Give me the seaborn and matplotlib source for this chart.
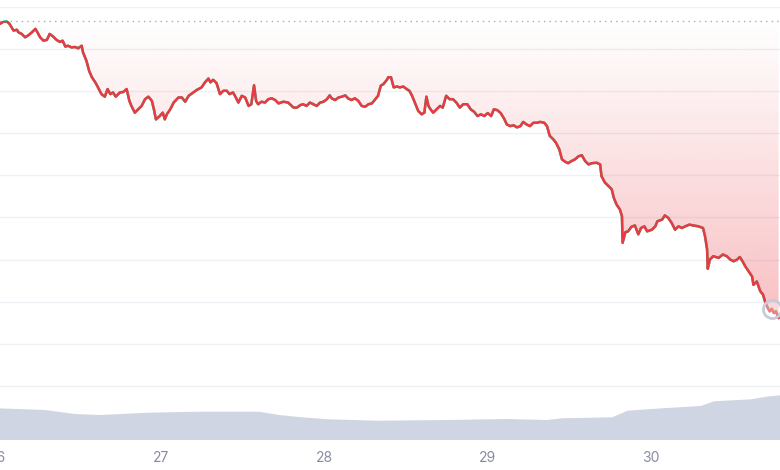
import numpy as np
import matplotlib
matplotlib.use("Agg")
import matplotlib.pyplot as plt
import seaborn as sns
from matplotlib.colors import to_rgb
from matplotlib.patches import Rectangle

# price series (hours since 26th 00:00)
hours = [
    0.4, 0.9, 1.4, 1.8, 2.1, 2.4, 2.9, 3.1, 3.6, 4.1,
    4.6, 5.1, 5.6, 5.9, 6.3, 6.8, 7.3, 7.7, 8.2, 8.7,
    9.2, 9.6, 10.0, 10.4, 10.9, 11.4, 11.9, 12.4, 12.6, 13.1,
    13.5, 13.9, 14.4, 14.8, 15.3, 15.8, 16.2, 16.6, 17.0, 17.4,
    18.0, 18.5, 19.0, 19.4, 19.7, 20.2, 20.7, 21.2, 21.7, 22.2,
    22.7, 23.0, 23.3, 23.8, 24.3, 24.6, 24.9, 25.4, 25.9, 26.6,
    27.1, 27.6, 28.1, 28.8, 29.3, 30.0, 30.5, 31.0, 31.3, 31.7,
    32.2, 32.7, 33.2, 33.7, 34.1, 34.6, 34.9, 35.4, 35.9, 36.4,
    36.9, 37.3, 37.7, 38.0, 38.3, 38.8, 39.3, 39.8, 40.3, 40.8,
    41.3, 42.0, 42.7, 43.5, 44.0, 44.5, 44.9, 45.4, 45.9, 46.4,
    46.9, 47.4, 47.9, 48.4, 48.8, 49.1, 49.6, 50.1, 50.6, 51.1,
    51.5, 52.0, 52.5, 53.0, 53.5, 54.0, 54.5, 55.0, 55.5, 55.9,
    56.3, 56.7, 57.2, 57.4, 57.8, 58.2, 58.7, 59.1, 59.6, 60.1,
    60.5, 60.9, 61.3, 61.8, 62.3, 62.7, 63.0, 63.3, 63.6, 64.0,
    64.5, 65.0, 65.4, 65.9, 66.4, 66.9, 67.4, 67.9, 68.4, 69.0,
    69.5, 70.0, 70.5, 71.0, 71.5, 72.0, 72.5, 72.9, 73.4, 73.9,
    74.4, 74.8, 75.3, 75.8, 76.3, 76.8, 77.2, 77.7, 78.2, 78.7,
    79.2, 79.7, 80.3, 80.7, 81.1, 81.6, 82.0, 82.5, 82.9, 83.4,
    83.8, 84.3, 84.8, 85.3, 85.8, 86.3, 86.8, 87.3, 88.0, 88.5,
    88.7, 89.2, 89.7, 90.2, 90.5, 90.9, 91.4, 91.7, 91.8, 92.2,
    92.6, 93.1, 93.6, 94.1, 94.5, 95.0, 95.4, 96.1, 96.6, 96.9,
    97.6, 98.0, 98.5, 99.0, 99.5, 100.0, 100.5, 101.0, 101.6, 102.2,
    102.9, 103.6, 103.9, 104.2, 104.3, 104.6, 105.1, 105.9, 106.5, 107.1,
    107.6, 108.1, 108.6, 109.0, 109.4, 109.8, 110.3, 110.8, 111.0, 111.5,
    112.0, 112.4, 112.7, 113.1, 113.4, 113.7, 114.0, 114.3, 114.7,
]
prices = [
    196.0, 196.5, 196.6, 196.0, 195.2, 194.4, 194.6, 194.0, 193.6, 192.8,
    193.3, 194.0, 194.8, 194.0, 192.8, 192.0, 192.2, 193.6, 193.0, 192.2,
    191.7, 192.0, 190.6, 190.8, 190.4, 190.5, 190.2, 190.8, 189.2, 187.2,
    184.8, 183.3, 182.1, 180.9, 179.3, 178.7, 180.5, 179.3, 179.7, 178.7,
    179.7, 179.8, 180.5, 177.7, 176.5, 174.9, 175.7, 176.5, 178.1, 178.7,
    177.7, 175.7, 173.3, 174.0, 174.9, 173.3, 174.5, 175.7, 177.3, 178.5,
    178.5, 177.5, 178.9, 179.7, 180.3, 180.9, 182.1, 183.0, 182.1, 182.7,
    181.9, 179.3, 180.1, 180.1, 179.3, 179.7, 178.9, 177.3, 178.9, 178.5,
    176.5, 176.9, 181.4, 177.7, 176.9, 177.5, 177.3, 178.1, 178.3, 177.9,
    177.1, 177.5, 177.3, 176.1, 176.1, 176.7, 176.9, 176.5, 177.3, 176.9,
    176.5, 177.3, 177.5, 178.1, 179.0, 178.3, 177.9, 178.5, 178.7, 179.0,
    178.3, 177.9, 178.3, 177.7, 176.5, 176.3, 176.9, 177.1, 178.1, 178.9,
    181.3, 181.7, 182.7, 183.3, 183.3, 180.9, 181.1, 180.9, 181.1, 180.5,
    180.1, 178.9, 177.3, 175.3, 174.5, 174.9, 178.7, 176.5, 175.7, 174.9,
    175.7, 176.5, 176.1, 178.9, 178.1, 178.1, 177.3, 176.1, 176.9, 176.9,
    175.7, 175.1, 174.1, 174.5, 174.1, 174.8, 174.1, 175.7, 175.5, 174.8,
    173.5, 172.1, 171.7, 171.9, 171.4, 171.7, 172.7, 172.1, 171.7, 172.5,
    172.5, 172.7, 172.5, 171.7, 169.4, 168.6, 167.8, 166.2, 163.8, 163.2,
    162.9, 163.4, 163.8, 164.5, 164.8, 163.4, 162.6, 162.9, 163.0, 162.6,
    159.8, 158.3, 157.5, 156.7, 154.7, 153.1, 151.9, 150.3, 144.0, 146.5,
    146.7, 147.8, 148.1, 146.0, 147.5, 147.9, 146.7, 147.1, 147.9, 149.1,
    149.5, 150.5, 149.9, 148.7, 147.1, 147.9, 147.5, 147.9, 148.3, 148.1,
    147.9, 147.5, 145.5, 142.4, 137.8, 140.0, 140.8, 140.4, 141.2, 140.8,
    140.0, 139.6, 140.0, 140.6, 139.6, 138.4, 137.2, 136.0, 134.0, 134.8,
    132.5, 131.7, 130.1, 128.5, 127.7, 128.3, 127.3, 127.7, 126.1,
]
open_price = 196.7

# volume series
vol_hours = [0, 7.0, 11.4, 15.1, 22.3, 29.6, 38.4, 41.4, 44.2, 48.6, 55.9, 66.2,
             74.8, 80.7, 82.9, 90.3, 92.5, 97.6, 103.3, 105.2, 110.7, 112.9, 114.9]
volumes = [317, 300, 260, 250, 273, 283, 283, 250, 230, 207, 193, 200,
           210, 200, 217, 227, 293, 317, 340, 387, 407, 433, 447]

tick_hours = [0, 24, 48, 72, 96]
tick_labels = ["26", "27", "28", "29", "30"]

red = "#ea3943"
green = "#16c784"

sns.set_theme(style="white")
plt.rcParams["font.family"] = ["Inter", "DejaVu Sans"]

fig = plt.figure(figsize=(7.8, 4.7), dpi=100)
ax = fig.add_axes([-2.8 / 780, 30 / 470, 782.8 / 780, 433 / 470])

x_max = 114.9
y_min, y_max = 97.14, 200

# gradient fill between opening price and the line
grad = np.zeros((256, 1, 4))
grad[..., :3] = to_rgb(red)
grad[..., 3] = np.linspace(0.32, 0.0, 256)[:, None]
poly = ax.fill_between(hours, prices, open_price, color="none", lw=0)
im = ax.imshow(grad, aspect="auto", origin="lower",
               extent=[0, x_max, min(prices), open_price], zorder=1)
im.set_clip_path(poly.get_paths()[0], transform=ax.transData)

# opening price dotted line
ax.axhline(open_price, color="#a6adbb", lw=1, ls=(0, (1, 3)), zorder=2)

# price line: green above open, red below
sns.lineplot(x=hours, y=prices, ax=ax, color=green, lw=1.8,
             sort=False, estimator=None, zorder=3)
sns.lineplot(x=hours, y=prices, ax=ax, color=red, lw=1.8,
             sort=False, estimator=None, zorder=4)
below = Rectangle((0, y_min), x_max, open_price - y_min, transform=ax.transData)
ax.lines[-1].set_clip_path(below)

# hover marker at the last price
ax.plot(hours[-4], prices[-4], marker="o", ms=13, mfc=(1, 1, 1, 0.35),
        mec="#c5cbd8", mew=2, zorder=5)

ax.set_xlim(0, x_max)
ax.set_ylim(y_min, y_max)
ax.set_yticks(np.arange(100, 201, 10))
ax.yaxis.grid(True, color="#eef1f5", lw=1)
ax.xaxis.grid(False)
ax.set_yticklabels([])
ax.tick_params(axis="y", length=0)
ax.set_xticks(tick_hours)
ax.set_xticklabels(tick_labels)
ax.tick_params(axis="x", length=3, width=1, color="#c3c8d3", pad=5,
               labelsize=10, labelcolor="#858ca2", direction="out")
for s in ax.spines.values():
    s.set_visible(False)
ax.set_xlabel("")
ax.set_ylabel("")

# volume area on a twin axis
ax2 = ax.twinx()
ax2.fill_between(vol_hours, volumes, 0, color="#cfd5e2", lw=0)
ax2.set_ylim(0, 4330)
ax2.set_xlim(0, x_max)
ax2.set_yticks([])
for s in ax2.spines.values():
    s.set_visible(False)

fig.savefig("out.png", dpi=100, facecolor="white")
